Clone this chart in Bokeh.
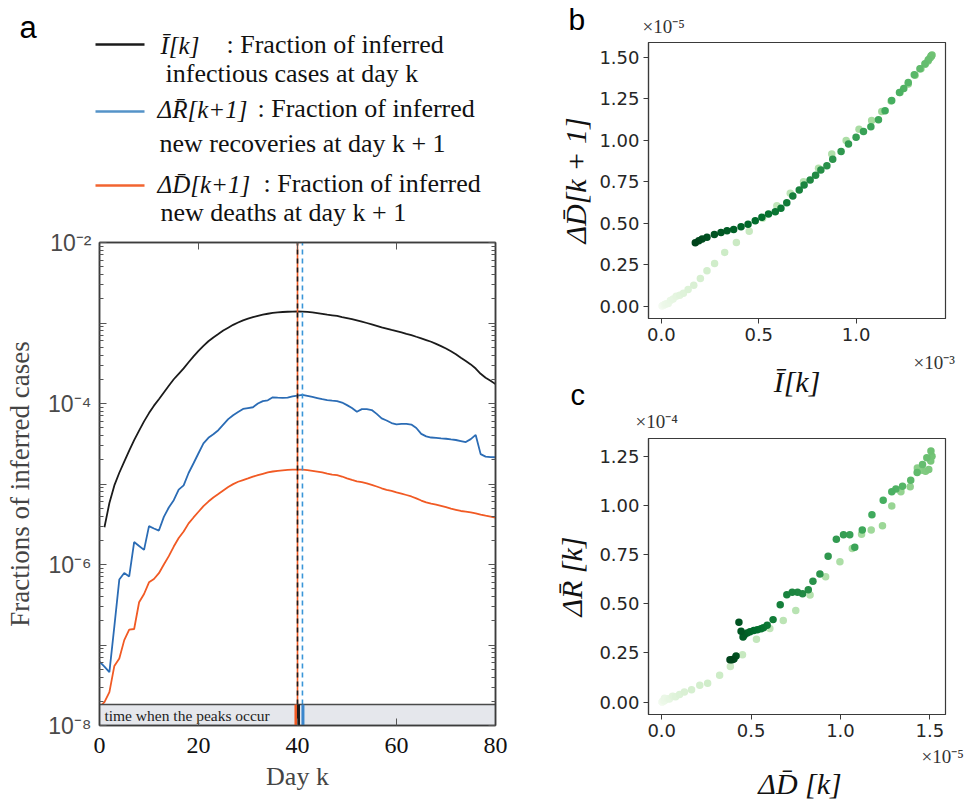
import numpy as np
from bokeh.plotting import figure
from bokeh.layouts import row, column
from bokeh.models import (Range1d, FixedTicker, CustomJSTickFormatter, LinearAxis, LogAxis,
                          ColumnDataSource)
from bokeh.transform import linear_cmap, dodge
from bokeh.palettes import Greens256
from bokeh.embed import file_html
from bokeh.resources import INLINE
from bokeh.core.properties import value

nan = float("nan")

# ---------------- data ----------------
days = list(range(81))

# I_bar[k] : fraction of inferred infectious cases at day k
I_bar = [nan, 2.9e-6, 5.8e-6, 9.6e-6, 1.38e-5, 1.9e-5, 2.6e-5, 3.5e-5, 4.6e-5, 6.0e-5,
         7.6e-5, 9.4e-5, 1.13e-4, 1.37e-4, 1.66e-4, 2.00e-4, 2.34e-4, 2.73e-4, 3.25e-4, 3.85e-4,
         4.51e-4, 5.20e-4, 5.93e-4, 6.62e-4, 7.30e-4, 8.07e-4, 8.75e-4, 9.49e-4, 1.015e-3, 1.080e-3,
         1.132e-3, 1.180e-3, 1.226e-3, 1.268e-3, 1.303e-3, 1.333e-3, 1.355e-3, 1.370e-3, 1.380e-3, 1.387e-3,
         1.390e-3, 1.385e-3, 1.371e-3, 1.354e-3, 1.328e-3, 1.299e-3, 1.268e-3, 1.245e-3, 1.223e-3, 1.183e-3,
         1.149e-3, 1.115e-3, 1.076e-3, 1.038e-3, 1.000e-3, 0.961e-3, 0.923e-3, 0.880e-3, 0.850e-3, 0.819e-3,
         0.792e-3, 0.764e-3, 0.733e-3, 0.708e-3, 0.675e-3, 0.644e-3, 0.614e-3, 0.585e-3, 0.550e-3, 0.516e-3,
         0.482e-3, 0.445e-3, 0.409e-3, 0.371e-3, 0.337e-3, 0.306e-3, 0.272e-3, 0.234e-3, 0.209e-3, 0.192e-3,
         0.174e-3]

# dR_bar[k+1] : fraction of inferred new recoveries (plotted at day k)
dR_next = [6.2e-8, 5.4e-8, 4.6e-8, 1.7e-7, 6.5e-7, 7.85e-7, 7.1e-7, 1.9e-6, 1.7e-6, 1.52e-6,
           3.0e-6, 2.8e-6, 2.64e-6, 3.9e-6, 5.1e-6, 6.3e-6, 8.5e-6, 9.6e-6, 1.37e-5, 1.81e-5,
           2.41e-5, 3.20e-5, 3.75e-5, 4.15e-5, 4.66e-5, 5.46e-5, 6.39e-5, 7.15e-5, 7.83e-5, 8.55e-5,
           8.77e-5, 8.98e-5, 9.99e-5, 1.071e-4, 1.097e-4, 1.193e-4, 1.181e-4, 1.176e-4, 1.185e-4, 1.228e-4,
           1.253e-4, 1.279e-4, 1.245e-4, 1.210e-4, 1.170e-4, 1.130e-4, 1.100e-4, 1.085e-4, 1.071e-4, 1.028e-4,
           9.55e-5, 8.77e-5, 7.89e-5, 8.52e-5, 8.52e-5, 8.30e-5, 7.43e-5, 6.52e-5, 6.15e-5, 5.72e-5,
           5.52e-5, 5.59e-5, 5.59e-5, 5.47e-5, 4.96e-5, 4.20e-5, 3.91e-5, 3.78e-5, 3.73e-5, 3.68e-5,
           3.65e-5, 3.58e-5, 3.52e-5, 3.42e-5, 3.32e-5, 3.61e-5, 4.07e-5, 2.35e-5, 2.19e-5, 2.16e-5,
           2.15e-5]

# dD_bar[k+1] : fraction of inferred new deaths (plotted at day k)
dD_next = [1.7e-8, 1.95e-8, 2.6e-8, 5.5e-8, 6.8e-8, 1.15e-7, 1.55e-7, 1.58e-7, 3.4e-7, 4.3e-7,
           6.0e-7, 6.6e-7, 7.8e-7, 1.0e-6, 1.27e-6, 1.67e-6, 2.13e-6, 2.57e-6, 3.24e-6, 3.84e-6,
           4.52e-6, 5.30e-6, 6.05e-6, 6.80e-6, 7.50e-6, 8.30e-6, 9.17e-6, 9.97e-6, 1.066e-5, 1.118e-5,
           1.172e-5, 1.235e-5, 1.287e-5, 1.338e-5, 1.390e-5, 1.430e-5, 1.457e-5, 1.476e-5, 1.494e-5, 1.505e-5,
           1.512e-5, 1.506e-5, 1.483e-5, 1.459e-5, 1.429e-5, 1.393e-5, 1.347e-5, 1.310e-5, 1.287e-5, 1.239e-5,
           1.176e-5, 1.122e-5, 1.080e-5, 1.052e-5, 1.017e-5, 9.77e-6, 9.31e-6, 8.85e-6, 8.46e-6, 8.20e-6,
           7.88e-6, 7.60e-6, 7.30e-6, 7.00e-6, 6.63e-6, 6.23e-6, 5.90e-6, 5.69e-6, 5.55e-6, 5.35e-6,
           5.15e-6, 4.94e-6, 4.78e-6, 4.62e-6, 4.55e-6, 4.44e-6, 4.32e-6, 4.16e-6, 4.04e-6, 3.94e-6,
           3.82e-6]

x_ticks_a = [0, 20, 40, 60, 80]
b_x_ticks = [0.0, 0.5e-3, 1.0e-3]
b_y_ticks = [0.0, 0.25e-5, 0.5e-5, 0.75e-5, 1.0e-5, 1.25e-5, 1.5e-5]
c_x_ticks = [0.0, 0.5e-5, 1.0e-5, 1.5e-5]
c_y_ticks = [0.0, 0.25e-4, 0.5e-4, 0.75e-4, 1.0e-4, 1.25e-4]

legend_math = ["\u012a[k]", "\u0394R\u0304[k+1]", "\u0394D\u0304[k+1]"]
legend_head = [":  Fraction of inferred", ": Fraction of inferred", ": Fraction of inferred"]
legend_tail = ["infectious cases at day k", "new recoveries at day  k + 1", "new deaths at day  k + 1"]

# ---------------- styles ----------------
C_I, C_R, C_D = "#1b1b1b", "#2b6cb5", "#f15a24"
C_RDASH = "#3a96d8"
LEG_COLORS = ["#1b1b1b", "#5593c8", "#f26430"]
SERIF = "Liberation Serif"
SANS = "Liberation Sans"
BAND_TOP = 1.82e-8
FRAME = "#3c3c3c"

I_arr = np.array(I_bar, dtype=float)
R_arr = np.array(dR_next, dtype=float)
D_arr = np.array(dD_next, dtype=float)
day_arr = np.array(days)

peak_I = int(day_arr[np.nanargmax(I_arr)])
peak_R = int(day_arr[np.nanargmax(R_arr)])
peak_D = int(day_arr[np.nanargmax(D_arr)])

W_L, W_R = 520, 455
blank_fmt = CustomJSTickFormatter(code="return '';")


def no_align(p):
    if "frame_align" in p.properties():
        p.frame_align = False


def strip(x0, x1, y0, y1):
    """A blank figure covering page pixels [x0,x1]x[y0,y1] (y downward) for free text."""
    s = figure(width=x1 - x0, height=y1 - y0, x_range=Range1d(x0, x1), y_range=Range1d(y1, y0),
               x_axis_location=None, y_axis_location=None, output_backend="svg",
               toolbar_location=None, min_border=0, outline_line_color=None)
    s.grid.visible = False
    s.title.visible = False
    no_align(s)
    return s


def put_text(p, xs, ys, texts, size, font, style="normal", color="#111111", align="left"):
    """ys are text baselines in page pixels; converted to em-box centres."""
    cy = [y - 0.34 * size for y in ys]
    p.text(x=xs, y=cy, text=texts, text_font=value(font), text_font_size="%gpx" % size,
           text_font_style=style, text_color=color, text_baseline="middle", text_align=align)


# ---------------- legend strip above panel a ----------------
H_LEG = 229
pl = strip(0, W_L, 0, H_LEG)
leg_y = [44, 111, 185]
pl.segment(x0=[95] * 3, x1=[144] * 3, y0=leg_y, y1=leg_y, line_color=LEG_COLORS, line_width=2.6)
put_text(pl, [160, 157, 157], [53, 117, 192], legend_math, 25, SERIF, "italic")
put_text(pl, [226, 257, 263], [53, 117, 192], legend_head, 26, SERIF)
put_text(pl, [165, 159, 160], [82, 152, 221], legend_tail, 26, SERIF)
put_text(pl, [19], [38], ["a"], 31, SANS, color="#000000")

# ---------------- panel a ----------------
A_FL, A_FT, A_FW, A_FH = 99, 242, 396, 483
H_A = 805 - H_LEG
Y_LO, Y_HI = 1e-8, 1e-2
pa = figure(width=W_L, height=H_A, x_range=Range1d(days[0], days[-1]), y_range=Range1d(Y_LO, Y_HI),
            y_axis_type="log", output_backend="svg", toolbar_location=None,
            min_border_left=A_FL, min_border_right=W_L - A_FL - A_FW, min_border_top=A_FT - H_LEG,
            min_border_bottom=805 - A_FT - A_FH)
no_align(pa)
pa.title.visible = False
pa.xgrid.visible = False
pa.ygrid.visible = False
pa.outline_line_color = FRAME
pa.outline_line_width = 1.5

major = [10.0 ** e for e in range(-8, -1)]
minor = [m * 10.0 ** e for e in range(-8, -2) for m in range(2, 10)]
log_fmt = CustomJSTickFormatter(code="""
const e = Math.round(Math.log10(tick));
if (e % 2 != 0) return "";
const sup = {"-":"\u207b","0":"\u2070","1":"\u00b9","2":"\u00b2","3":"\u00b3","4":"\u2074","5":"\u2075","6":"\u2076","7":"\u2077","8":"\u2078","9":"\u2079"};
return "10" + String(e).split("").map(c => sup[c]).join("");
""")
ya = pa.yaxis[0]
ya.ticker = FixedTicker(ticks=major, minor_ticks=minor)
ya.formatter = log_fmt
ya.major_label_text_font = SANS
ya.major_label_text_font_size = "23px"
ya.major_label_text_color = "#4a4a4a"
ya.major_label_standoff = 8
ya.axis_label = "Fractions of inferred cases"
ya.axis_label_text_font = SERIF
ya.axis_label_text_font_size = "27px"
ya.axis_label_text_font_style = "normal"
ya.axis_label_standoff = 10

xa = pa.xaxis[0]
xa.ticker = FixedTicker(ticks=x_ticks_a)
xa.major_label_text_font = SERIF
xa.major_label_text_font_size = "24px"
xa.major_label_text_color = "#111111"
xa.major_label_standoff = 12
xa.axis_label = "Day k"
xa.axis_label_text_font = SERIF
xa.axis_label_text_font_size = "26px"
xa.axis_label_text_font_style = "normal"
xa.axis_label_standoff = 6

for ax in (ya, xa):
    ax.major_tick_in = 7
    ax.major_tick_out = 0
    ax.minor_tick_in = 4
    ax.minor_tick_out = 0
    ax.axis_line_color = FRAME
    ax.axis_line_width = 1.5
    ax.major_tick_line_color = "#555555"
    ax.minor_tick_line_color = "#555555"
xa.minor_tick_line_color = None

ra = LogAxis(ticker=FixedTicker(ticks=major, minor_ticks=minor), formatter=blank_fmt,
             major_label_standoff=0,
             major_tick_in=7, major_tick_out=0, minor_tick_in=4, minor_tick_out=0,
             axis_line_color=FRAME, axis_line_width=1.5,
             major_tick_line_color="#555555", minor_tick_line_color="#555555")
pa.add_layout(ra, "right")
ta = LinearAxis(ticker=FixedTicker(ticks=x_ticks_a), formatter=blank_fmt, major_label_standoff=0,
                major_tick_in=7, major_tick_out=0, minor_tick_line_color=None,
                axis_line_color=FRAME, axis_line_width=1.5, major_tick_line_color="#555555")
pa.add_layout(ta, "above")

pa.line(days, I_arr, line_color=C_I, line_width=1.8)
pa.line(days, R_arr, line_color=C_R, line_width=1.8)
pa.line(days, D_arr, line_color=C_D, line_width=1.8)

# vertical peak markers
pa.segment(x0=[peak_D], x1=[peak_D], y0=[BAND_TOP], y1=[Y_HI], line_color=C_D, line_width=1.6)
pa.segment(x0=[peak_I], x1=[peak_I], y0=[BAND_TOP], y1=[Y_HI], line_color=C_I, line_width=1.6,
           line_dash="5 4")
pa.segment(x0=[peak_R], x1=[peak_R], y0=[BAND_TOP], y1=[Y_HI], line_color=C_RDASH, line_width=1.6,
           line_dash="5 4")

# band "time when the peaks occur"
pa.quad(left=[days[0]], right=[days[-1]], bottom=[Y_LO], top=[BAND_TOP],
        fill_color="#e5e7ec", line_color="#4a4a4a", line_width=1.5)
pa.segment(x0=dodge("x", -0.35, range=pa.x_range), x1=dodge("x", -0.35, range=pa.x_range),
           y0="y0", y1="y1", source=ColumnDataSource(dict(x=[peak_D], y0=[Y_LO], y1=[BAND_TOP])),
           line_color=C_D, line_width=2.6)
pa.segment(x0=dodge("x", 0.2, range=pa.x_range), x1=dodge("x", 0.2, range=pa.x_range),
           y0="y0", y1="y1", source=ColumnDataSource(dict(x=[peak_I], y0=[Y_LO], y1=[BAND_TOP])),
           line_color=C_I, line_width=3)
pa.segment(x0=dodge("x", 0.1, range=pa.x_range), x1=dodge("x", 0.1, range=pa.x_range),
           y0="y0", y1="y1", source=ColumnDataSource(dict(x=[peak_R], y0=[Y_LO], y1=[BAND_TOP])),
           line_color="#3a86cc", line_width=3)
pa.text(x=[days[0] + 1.0], y=[np.sqrt(Y_LO * BAND_TOP)], text=["time when the peaks occur"],
        text_font=value(SERIF), text_font_size="15.5px", text_baseline="middle", text_color="#222222")

# ---------------- scatter panels ----------------
valid_b = ~np.isnan(I_arr)
src_b = ColumnDataSource(dict(day=day_arr[valid_b], I=I_arr[valid_b], D=D_arr[valid_b]))
src_c = ColumnDataSource(dict(day=day_arr, D=D_arr, R=R_arr))
cmap = linear_cmap("day", list(Greens256)[::-1], days[0], days[-1])


def padded(vals):
    v = np.asarray(vals, dtype=float)
    v = v[~np.isnan(v)]
    lo, hi = float(v.min()), float(v.max())
    pad = 0.05 * (hi - lo)
    return Range1d(lo - pad, hi + pad)


def style_scatter(p, xt, yt, xs, ys, xnd, ynd, ylabel, ystand):
    p.title.visible = False
    p.xgrid.visible = False
    p.ygrid.visible = False
    p.outline_line_color = "#3a3a3a"
    p.outline_line_width = 1.2
    p.xaxis.ticker = FixedTicker(ticks=xt)
    p.yaxis.ticker = FixedTicker(ticks=yt)
    p.xaxis.formatter = CustomJSTickFormatter(code="return (tick/%r).toFixed(%d);" % (xs, xnd))
    p.yaxis.formatter = CustomJSTickFormatter(code="return (tick/%r).toFixed(%d);" % (ys, ynd))
    for ax in (p.xaxis[0], p.yaxis[0]):
        ax.major_tick_in = 0
        ax.major_tick_out = 5
        ax.minor_tick_line_color = None
        ax.axis_line_color = "#3a3a3a"
        ax.axis_line_width = 1.2
        ax.major_tick_line_color = "#3a3a3a"
        ax.major_label_text_font = "DejaVu Sans"
        ax.major_label_text_font_size = "18px"
        ax.major_label_text_color = "#262626"
        ax.major_label_standoff = 4
        ax.axis_label_text_font = SERIF
        ax.axis_label_text_font_size = "30px"
        ax.axis_label_text_font_style = "italic"
        ax.axis_label_text_color = "#111111"
    p.yaxis.axis_label = ylabel
    p.yaxis.axis_label_standoff = ystand


X_OFF = W_L
B_FL, B_FW, B_FH = 648, 297, 276
TICK_H = 32
# vertical page layout of the right column
B_TOP, C_TOP = 42, 438
B_BOT = B_TOP + B_FH + TICK_H          # 350
C_BOT = C_TOP + B_FH + TICK_H          # 746


def scatter_fig(xr, yr):
    p = figure(width=W_R, height=B_FH + TICK_H, x_range=xr, y_range=yr,
               output_backend="svg", toolbar_location=None,
               min_border_left=B_FL - X_OFF, min_border_right=W_R - (B_FL - X_OFF) - B_FW,
               min_border_top=0, min_border_bottom=TICK_H)
    no_align(p)
    return p


pb = scatter_fig(padded(I_arr), padded(D_arr))
pb.scatter("I", "D", source=src_b, size=7.5, fill_color=cmap, line_color=None)
style_scatter(pb, b_x_ticks, b_y_ticks, 1e-3, 1e-5, 1, 2, "\u0394D\u0304[k + 1]", 4)

pc = scatter_fig(padded(D_arr), padded(R_arr))
pc.scatter("D", "R", source=src_c, size=7.5, fill_color=cmap, line_color=None)
style_scatter(pc, c_x_ticks, c_y_ticks, 1e-5, 1e-4, 1, 2, "\u0394R\u0304 [k]", 8)

# text strips around the scatter panels (page-pixel coordinates, y = baseline)
sb_top = strip(X_OFF, 975, 0, B_TOP)
put_text(sb_top, [568], [29], ["b"], 30, SANS, color="#000000")
put_text(sb_top, [642], [32], ["\u00d710\u207b\u2075"], 19, SERIF, color="#333333")

sb_bot = strip(X_OFF, 975, B_BOT, 412)
put_text(sb_bot, [913], [368], ["\u00d710\u207b\u00b3"], 19, SERIF, color="#333333")
put_text(sb_bot, [B_FL + B_FW / 2], [391], ["\u012a[k]"], 30, SERIF, "italic", align="center")
put_text(sb_bot, [570], [404], ["c"], 29, SANS, color="#000000")

sc_top = strip(X_OFF, 975, 412, C_TOP)
put_text(sc_top, [635], [427], ["\u00d710\u207b\u2074"], 19, SERIF, color="#333333")

sc_bot = strip(X_OFF, 975, C_BOT, 805)
put_text(sc_bot, [921], [762], ["\u00d710\u207b\u2075"], 19, SERIF, color="#333333")
put_text(sc_bot, [B_FL + B_FW / 2 + 3], [793], ["\u0394D\u0304 [k]"], 30, SERIF, "italic",
         align="center")

layout = row(column(pl, pa), column(sb_top, pb, sb_bot, sc_top, pc, sc_bot))
open("out.html", "w").write(file_html(layout, INLINE))
